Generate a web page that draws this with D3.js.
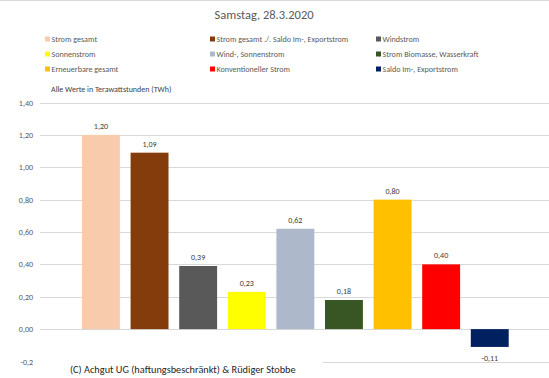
<!DOCTYPE html>
<html><head><meta charset="utf-8">
<script src="https://cdn.jsdelivr.net/npm/d3@7/dist/d3.min.js"></script>
<style>body{margin:0;background:#fff}svg{display:block}text{font-family:Carlito,Calibri,"Liberation Sans",sans-serif}</style>
</head><body><svg id="c" width="549" height="378"></svg>
<script>
const categories = ["Strom gesamt","Strom gesamt ./. Saldo Im-, Exportstrom","Windstrom","Sonnenstrom","Wind-, Sonnenstrom","Strom Biomasse, Wasserkraft","Erneuerbare gesamt","Konventioneller Strom","Saldo Im-, Exportstrom"];
const values = [1.20, 1.09, 0.39, 0.23, 0.62, 0.18, 0.80, 0.40, -0.11];
const colors = ["#F8CBAD","#843C0C","#595959","#FFFF00","#ADB9CA","#375623","#FFC000","#FF0000","#002060"];
const tickValues = [-0.2,0,0.2,0.4,0.6,0.8,1.0,1.2,1.4];
const tickLabels = ["-0,2","0,00","0,20","0,40","0,60","0,80","1,00","1,20","1,40"];
const fmt = v => v.toFixed(2).replace(".", ",");

const svg = d3.select("#c");
svg.append("rect").attr("x",-5).attr("y",0.5).attr("width",570).attr("height",400)
  .attr("fill","#fff").attr("stroke","#d9d9d9");

svg.append("text").attr("x",264).attr("y",19).attr("text-anchor","middle")
  .attr("font-size",12.5).attr("fill","#595959").text("Samstag, 28.3.2020");

// legend
const legCols = [45, 210, 376], legRows = [39, 54, 69];
categories.forEach((c,i)=>{
  const x = legCols[i%3], y = legRows[Math.floor(i/3)];
  svg.append("rect").attr("x",x).attr("y",y-2.5).attr("width",5).attr("height",5).attr("fill",colors[i]);
  svg.append("text").attr("x",x+6.5).attr("y",y+2.8).attr("font-size",8.1).attr("fill","#595959").text(c);
});
svg.append("text").attr("x",51).attr("y",91.5).attr("font-size",8).attr("fill","#404040").text("Alle Werte in Terawattstunden (TWh)");

const y = d3.scaleLinear().domain([-0.2,1.4]).range([361.5,102.5]);
const x = d3.scaleBand().domain(categories).range([82,508.7]).paddingInner(0.22).paddingOuter(0);

// gridlines
svg.append("g").selectAll("line").data(tickValues).join("line")
  .attr("x1",40).attr("x2",549).attr("y1",d=>Math.round(y(d))+0.5).attr("y2",d=>Math.round(y(d))+0.5)
  .attr("stroke","#d9d9d9").attr("stroke-width",1);

// y-axis labels
const yAxis = d3.axisLeft(y).tickValues(tickValues).tickFormat((d,i)=>tickLabels[i]).tickSize(0).tickPadding(0);
const ga = svg.append("g").attr("transform","translate(33,0)").call(yAxis);
ga.select(".domain").remove();
ga.selectAll("text").attr("font-size",8).attr("fill","#595959").attr("font-family",'Carlito,Calibri,"Liberation Sans",sans-serif');

// bars
svg.append("g").selectAll("rect").data(values).join("rect")
  .attr("x",(d,i)=>x(categories[i])).attr("width",x.bandwidth())
  .attr("y",d=>y(Math.max(0,d))).attr("height",d=>Math.abs(y(d)-y(0)))
  .attr("fill",(d,i)=>colors[i]);

// labels
svg.append("g").selectAll("text").data(values).join("text")
  .attr("x",(d,i)=>x(categories[i])+x.bandwidth()/2)
  .attr("y",d=> d>=0 ? y(d)-6 : y(d)+14)
  .attr("text-anchor","middle").attr("font-size",8).attr("fill","#404040").text(d=>fmt(d));

// copyright with white background
svg.append("rect").attr("x",40).attr("y",356).attr("width",283).attr("height",22).attr("fill","#fff");
svg.append("text").attr("x",70).attr("y",372.5).attr("font-size",10.3).attr("fill","#262626")
  .text("(C) Achgut UG (haftungsbeschränkt) & Rüdiger Stobbe");
</script></body></html>
